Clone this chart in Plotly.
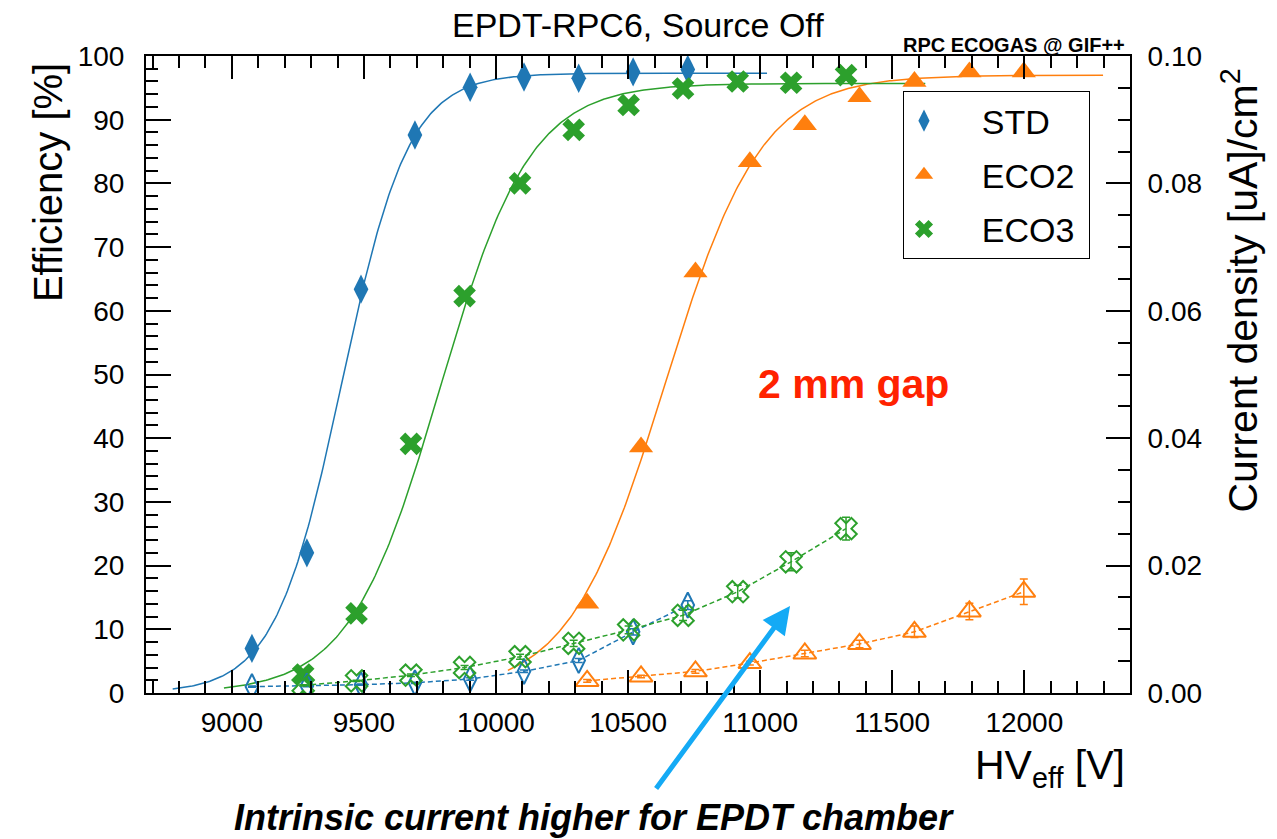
import numpy as np
import plotly.graph_objects as go

# Effective HV scan points [V]
hv_std = [9076, 9284, 9489, 9693, 9902, 10106, 10313, 10519, 10726]
hv_eco2 = [10345, 10549, 10755, 10961, 11169, 11376, 11584, 11792, 11998]
hv_eco3 = [9270, 9472, 9678, 9881, 10091, 10294, 10502, 10708, 10915, 11117, 11325]

# Efficiency [%]
eff_std = [7.0, 22.0, 63.4, 87.6, 95.1, 96.7, 96.5, 97.5, 97.9]
eff_eco2 = [14.1, 38.6, 66.1, 83.4, 89.2, 93.6, 96.0, 97.5, 97.5]
eff_eco3 = [2.9, 12.5, 39.1, 62.3, 80.0, 88.4, 92.3, 94.9, 96.0, 95.8, 97.0]

# Current density [uA/cm2] and its uncertainty
cur_std = [0.0010, 0.0011, 0.0013, 0.0016, 0.0022, 0.0034, 0.0051, 0.0096, 0.0138]
cur_std_err = [0.0001, 0.0001, 0.0001, 0.0001, 0.0002, 0.0002, 0.0003, 0.0005, 0.0007]
cur_eco2 = [0.0019, 0.0026, 0.0034, 0.0047, 0.0062, 0.0077, 0.0096, 0.0128, 0.0159]
cur_eco2_err = [0.0002, 0.0002, 0.0003, 0.0003, 0.0005, 0.0006, 0.0009, 0.0013, 0.0020]
cur_eco3 = [0.0012, 0.0019, 0.0028, 0.0040, 0.0057, 0.0078, 0.0099, 0.0122, 0.0159, 0.0206, 0.0258]
cur_eco3_err = [0.0001, 0.0001, 0.0002, 0.0003, 0.0004, 0.0005, 0.0006, 0.0008, 0.0010, 0.0014, 0.0018]

# Sigmoid fit results: plateau [%], slope [1/V], HV at half plateau [V]
fit_std = (97.3, 0.0079, 9416)
fit_eco2 = (97.0, 0.0055, 10640)
fit_eco3 = (95.7, 0.00585, 9788)
FIT_MARGIN = 300  # fit curve drawn this far beyond the first/last point [V]

series = [
    ("STD", hv_std, eff_std, cur_std, cur_std_err, fit_std, "#1f77b4", "diamond-tall", 21, 18),
    ("ECO2", hv_eco2, eff_eco2, cur_eco2, cur_eco2_err, fit_eco2, "#ff7f0e", "triangle-up", 21, 20),
    ("ECO3", hv_eco3, eff_eco3, cur_eco3, cur_eco3_err, fit_eco3, "#2ca02c", "x", 20, 19),
]

FONT = "Liberation Sans, Arial, Helvetica, sans-serif"
NBSP = "\u00a0"

fig = go.Figure()

# Current density curves (open markers, dashed lines) on the right axis
for name, hv, eff, cur, cerr, fit, col, sym, msize, osize in series:
    fig.add_trace(go.Scatter(
        x=hv, y=cur, yaxis="y2", mode="lines+markers", showlegend=False,
        line=dict(color=col, width=1.5, dash="5px,3px"),
        marker=dict(symbol=sym + "-open", size=osize, color=col, line=dict(color=col, width=2)),
        error_y=dict(type="data", array=cerr, color=col, thickness=1.5, width=4),
    ))

# Sigmoid fit curves
for name, hv, eff, cur, cerr, fit, col, sym, msize, osize in series:
    emax, lam, hv50 = fit
    xs = np.linspace(min(hv) - FIT_MARGIN, max(hv) + FIT_MARGIN, 400)
    ys = emax / (1.0 + np.exp(-lam * (xs - hv50)))
    fig.add_trace(go.Scatter(
        x=xs, y=ys, mode="lines", showlegend=False, hoverinfo="skip",
        line=dict(color=col, width=1.5),
    ))

# Efficiency points (filled markers)
for name, hv, eff, cur, cerr, fit, col, sym, msize, osize in series:
    fig.add_trace(go.Scatter(
        x=hv, y=eff, mode="markers", name=NBSP * 4 + name + NBSP, legendgroup=name,
        marker=dict(symbol=sym, size=msize, color=col, line=dict(width=0)),
    ))

axis_common = dict(
    showline=True, linecolor="black", linewidth=2,
    ticks="inside", tickcolor="black", tickwidth=2,
    showgrid=False, zeroline=False,
    tickfont=dict(family=FONT, size=28, color="black"),
)

fig.update_layout(
    width=1277, height=839,
    margin=dict(l=146, r=147, t=56, b=146),
    paper_bgcolor="white", plot_bgcolor="white",
    font=dict(family=FONT, color="black"),
    xaxis=dict(
        range=[8675, 12400], tick0=9000, dtick=500, tickformat="d", ticklen=23,
        mirror="ticks", ticklabelstandoff=3,
        minor=dict(dtick=100, ticks="inside", ticklen=12, tickwidth=2, tickcolor="black"),
        **axis_common,
    ),
    yaxis=dict(
        range=[0, 100], dtick=10, ticklen=25, ticklabelstandoff=14,
        minor=dict(dtick=2, ticks="inside", ticklen=12, tickwidth=2, tickcolor="black"),
        **axis_common,
    ),
    yaxis2=dict(
        range=[0, 0.1], dtick=0.02, tickformat=".2f", ticklen=24,
        overlaying="y", side="right", ticklabelstandoff=10,
        minor=dict(dtick=0.005, ticks="inside", ticklen=12, tickwidth=2, tickcolor="black"),
        **axis_common,
    ),
    legend=dict(
        x=0.7693, y=0.945, xanchor="left", yanchor="top",
        bgcolor="white", bordercolor="black", borderwidth=1,
        font=dict(family=FONT, size=34, color="black"),
        tracegroupgap=7, traceorder="grouped",
    ),
    showlegend=True,
)

annotations = [
    dict(text="EPDT-RPC6, Source Off", x=0.5, y=1.0487, font=dict(size=34),
         xanchor="center", yanchor="middle"),
    dict(text="<b>RPC ECOGAS @ GIF++</b>", x=0.997, y=1.0173, font=dict(size=20),
         xanchor="right", yanchor="middle"),
    dict(text="Efficiency [%]", x=-0.0996, y=0.802, textangle=-90, font=dict(size=40),
         xanchor="center", yanchor="middle"),
    dict(text="Current density [uA]/cm<sup>2</sup>", x=1.112, y=0.632, textangle=-90,
         font=dict(size=41), xanchor="center", yanchor="middle"),
    dict(text="HV<sub>eff</sub> [V]", x=0.997, y=-0.118, font=dict(size=41),
         xanchor="right", yanchor="middle"),
    dict(text="<b>2 mm gap</b>", x=0.7195, y=0.485, font=dict(size=41, color="#ff2200"),
         xanchor="center", yanchor="middle"),
    dict(text="<b><i>Intrinsic current higher for EPDT chamber</i></b>", x=0.455, y=-0.196,
         font=dict(size=36), xanchor="center", yanchor="middle"),
]
for a in annotations:
    a.update(xref="paper", yref="paper", showarrow=False)
    a["font"].setdefault("family", FONT)
    a["font"].setdefault("color", "black")
    fig.add_annotation(**a)

# Arrow pointing at the current density curves
fig.add_annotation(
    x=0.6545, y=0.1366, xref="paper", yref="paper", text="",
    showarrow=True, ax=-135, ay=184, arrowhead=2, arrowsize=1.1, arrowwidth=5,
    arrowcolor="#14aaf5",
)

fig.write_html("out.html")
